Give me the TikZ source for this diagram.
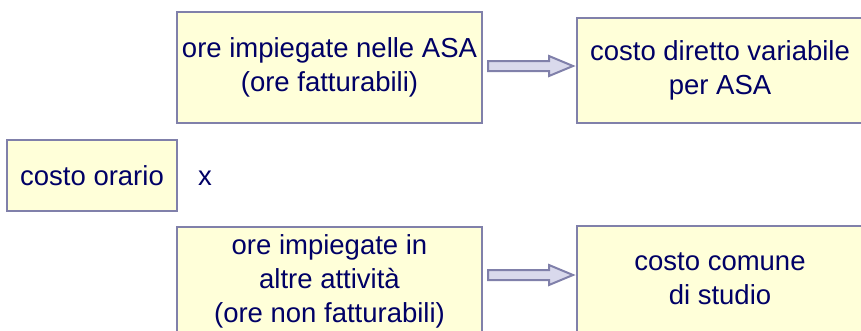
\documentclass[tikz,border=0pt]{standalone}
\usepackage{fontspec}
\setmainfont{Liberation Sans}
\usetikzlibrary{calc}
\definecolor{boxfill}{RGB}{255,255,217}
\definecolor{boxline}{RGB}{128,128,170}
\definecolor{txt}{RGB}{0,0,102}
\definecolor{arrfill}{RGB}{217,217,236}
\tikzset{
  cbox/.style={draw=boxline, fill=boxfill, line width=2pt, inner sep=0pt,
    align=center, text=txt, font=\fontsize{27.5}{34}\selectfont},
  plain/.style={inner sep=0pt, text=txt, font=\fontsize{27.5}{34}\selectfont},
  fatarrow/.style={draw=boxline, fill=arrfill, line width=2pt, line join=miter}
}
\begin{document}
\begin{tikzpicture}[x=1pt,y=-1pt]
\useasboundingbox (0,0) rectangle (861,330);
\clip (0,0) rectangle (861,330);
\fill[white] (0,0) rectangle (861,330);
\node[cbox, minimum width=305pt, minimum height=111pt] (b1) at (329.5,67.5) {ore impiegate nelle ASA\\(ore fatturabili)};
\node[cbox, minimum width=286pt, minimum height=105pt] (b2) at (720,70.5) {costo diretto variabile\\per ASA};
\node[cbox, minimum width=170pt, minimum height=71pt] (b3) at (92,175.5) {costo orario};
\node[plain] (x) at (205,178) {x};
\node[cbox, minimum width=305pt, minimum height=109pt] (b4) at (329.5,281.5) {ore impiegate in\\altre attività\\(ore non fatturabili)};
\node[cbox, minimum width=286pt, minimum height=106pt] (b5) at (720,279) {costo comune\\di studio};
% arrows
\coordinate (a1) at ($(b1.east)+(5,-1.5)$);
\draw[fatarrow] ($(a1)+(0,-5)$) -- ++(61,0) -- ++(0,-5) -- ($(a1)+(85,0)$) -- ($(a1)+(61,10)$) -- ++(0,-5) -- ($(a1)+(0,5)$) -- cycle;
\coordinate (a2) at ($(b4.east)+(5,-6.5)$);
\draw[fatarrow] ($(a2)+(0,-5)$) -- ++(61,0) -- ++(0,-5) -- ($(a2)+(85,0)$) -- ($(a2)+(61,10)$) -- ++(0,-5) -- ($(a2)+(0,5)$) -- cycle;
\end{tikzpicture}
\end{document}
